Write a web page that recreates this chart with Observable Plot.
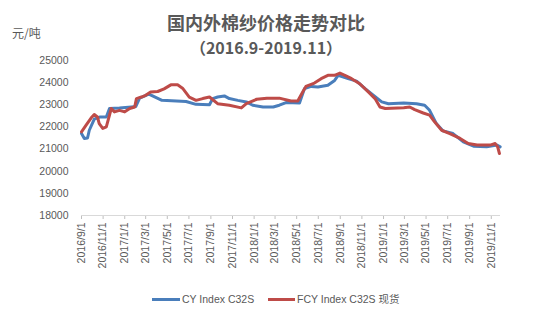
<!DOCTYPE html>
<html><head><meta charset="utf-8">
<script src="https://cdn.jsdelivr.net/npm/d3@7"></script>
<script src="https://cdn.jsdelivr.net/npm/@observablehq/plot@0.6"></script>
<style>
body{margin:0;background:#fff;}
#wrap{position:relative;width:539px;height:316px;overflow:hidden;font-family:"Liberation Sans",Arial,sans-serif;}
#wrap svg{position:absolute;left:0;top:0;}
#wrap svg [aria-label="x-axis tick"]{stroke:#bfbfbf;}
.t{position:absolute;color:#595959;white-space:nowrap;}
.cjk{font-family:"Noto Sans CJK SC","Liberation Sans",sans-serif;}
.lat{font-family:"Liberation Sans","Noto Sans CJK SC",sans-serif;}
.ln{position:absolute;height:3px;}
</style></head><body>
<div id="wrap"></div>
<script>
const title = "国内外棉纱价格走势对比";
const subtitle = "（2016.9-2019.11）";
const unit = "元/吨";
const seriesNames = ["CY Index C32S", "FCY Index C32S 现货"];
const seriesColors = ["#4A7EBB", "#BE4B48"];

const cyDates = ["2016-09-01","2016-09-09","2016-09-18","2016-09-23","2016-10-07","2016-10-24","2016-11-10","2016-11-19","2016-12-17","2017-01-20","2017-02-01","2017-02-12","2017-03-10","2017-04-16","2017-06-23","2017-07-21","2017-08-28","2017-09-06","2017-09-20","2017-10-09","2017-10-23","2017-11-16","2017-12-10","2017-12-28","2018-01-26","2018-02-24","2018-03-13","2018-04-01","2018-05-09","2018-05-23","2018-06-11","2018-06-30","2018-07-28","2018-08-16","2018-08-26","2018-09-23","2018-10-17","2018-11-10","2018-12-03","2018-12-27","2019-01-15","2019-02-27","2019-04-04","2019-04-27","2019-05-11","2019-05-30","2019-06-18","2019-07-16","2019-08-14","2019-09-12","2019-10-19","2019-11-17","2019-11-26"];
const cyValues = [21700,21480,21500,21850,22350,22450,22450,22830,22850,22900,22920,23300,23480,23200,23150,23020,23000,23280,23350,23400,23280,23200,23130,22980,22900,22900,22980,23100,23080,23730,23830,23800,23880,24100,24330,24180,24070,23730,23430,23130,23050,23080,23050,22980,22750,22150,21820,21700,21330,21130,21100,21180,21100];

const fcyDates = ["2016-09-01","2016-09-14","2016-09-28","2016-10-07","2016-10-16","2016-10-21","2016-10-31","2016-11-10","2016-11-19","2016-11-24","2016-12-03","2016-12-17","2017-01-01","2017-01-15","2017-01-29","2017-02-03","2017-02-17","2017-03-01","2017-03-15","2017-04-04","2017-04-22","2017-05-11","2017-05-30","2017-06-13","2017-07-02","2017-07-21","2017-08-09","2017-08-28","2017-09-20","2017-10-23","2017-11-26","2017-12-10","2018-01-08","2018-02-06","2018-03-13","2018-04-15","2018-05-04","2018-05-18","2018-05-27","2018-06-20","2018-07-09","2018-07-28","2018-08-16","2018-08-31","2018-09-14","2018-10-03","2018-10-26","2018-11-19","2018-12-08","2018-12-22","2019-01-06","2019-02-27","2019-03-16","2019-03-30","2019-04-23","2019-05-11","2019-05-25","2019-06-14","2019-07-07","2019-08-05","2019-08-28","2019-09-22","2019-10-29","2019-11-12","2019-11-19","2019-11-24"];
const fcyValues = [21780,22080,22400,22560,22450,22150,21930,22000,22530,22830,22680,22750,22680,22830,22900,23280,23350,23430,23580,23600,23720,23900,23900,23750,23350,23200,23280,23350,23050,22980,22860,23050,23250,23300,23300,23170,23170,23580,23830,23980,24180,24330,24330,24430,24330,24180,23950,23580,23280,22900,22830,22870,22900,22780,22630,22530,22230,21850,21700,21480,21250,21180,21180,21250,21100,20800];

const xTicks = ["2016-09-01","2016-11-01","2017-01-01","2017-03-01","2017-05-01","2017-07-01","2017-09-01","2017-11-01","2018-01-01","2018-03-01","2018-05-01","2018-07-01","2018-09-01","2018-11-01","2019-01-01","2019-03-01","2019-05-01","2019-07-01","2019-09-01","2019-11-01"];
const yTicks = [18000,19000,20000,21000,22000,23000,24000,25000];

const data = [
  ...cyDates.map((d,i)=>({date:new Date(d), value:cyValues[i], series:seriesNames[0]})),
  ...fcyDates.map((d,i)=>({date:new Date(d), value:fcyValues[i], series:seriesNames[1]}))
];
const fmt = d => `${d.getUTCFullYear()}/${d.getUTCMonth()+1}/${d.getUTCDate()}`;

const chart = Plot.plot({
  width:539, height:316,
  marginLeft:81, marginRight:39, marginTop:60, marginBottom:101,
  style:{background:"transparent", fontFamily:"Liberation Sans, Arial, sans-serif", fontSize:"10.5px", color:"#595959"},
  x:{type:"utc", domain:[new Date("2016-09-01"), new Date("2019-11-27")], ticks:xTicks.map(d=>new Date(d)), tickFormat:fmt, tickRotate:-90, tickSize:4, tickPadding:3, label:null},
  y:{domain:[18000,25000], ticks:yTicks, tickFormat:d=>String(d), tickSize:0, tickPadding:13, label:null},
  color:{domain:seriesNames, range:seriesColors},
  marks:[
    Plot.ruleY([18000],{stroke:"#d9d9d9"}),
    Plot.line(data,{x:"date", y:"value", z:"series", stroke:"series", strokeWidth:3, strokeLinejoin:"round"})
  ]
});
const wrap = document.getElementById("wrap");
wrap.appendChild(chart);

function addText(txt, cls, style){
  const d = document.createElement("div");
  d.className = "t " + cls;
  d.textContent = txt;
  Object.assign(d.style, style);
  wrap.appendChild(d);
  return d;
}
addText(title, "cjk", {left:"0px", width:"532px", textAlign:"center", top:"12px", fontSize:"18px", lineHeight:"20px", fontWeight:"bold"});
addText(subtitle, "cjk", {left:"0px", width:"532px", textAlign:"center", top:"37px", fontSize:"16px", lineHeight:"20px", fontWeight:"bold"});
addText(unit, "cjk", {left:"12px", top:"26px", fontSize:"12px", lineHeight:"14px"});

function addLegend(x, w, color, label){
  const l = document.createElement("div");
  l.className = "ln";
  Object.assign(l.style, {left:x+"px", top:"298px", width:w+"px", background:color});
  wrap.appendChild(l);
  addText(label, "lat", {left:(x+w+2)+"px", top:"292px", fontSize:"10.5px", lineHeight:"14px"});
}
addLegend(152, 28, seriesColors[0], seriesNames[0]);
addLegend(268, 27, seriesColors[1], seriesNames[1]);
</script>
</body></html>
